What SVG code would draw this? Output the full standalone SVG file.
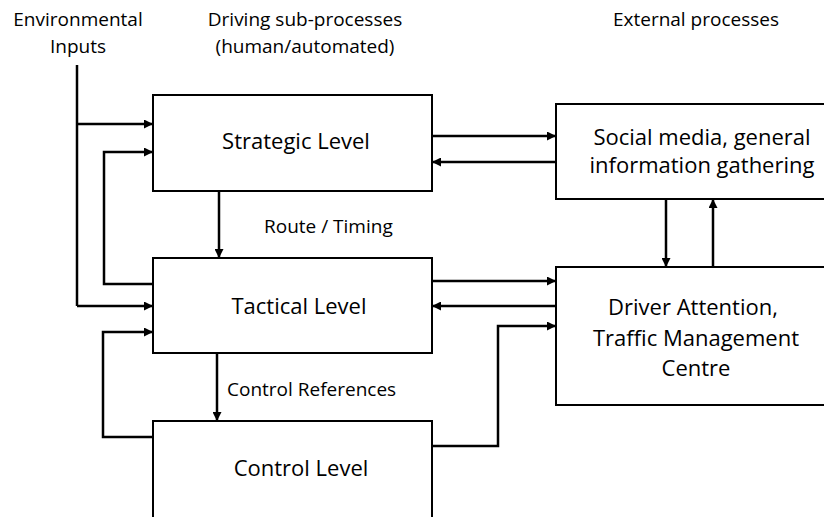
<svg xmlns="http://www.w3.org/2000/svg" width="824" height="517" viewBox="0 0 824 517">
  <style>
    .box { fill: #ffffff; stroke: #000000; stroke-width: 2; }
    .lbl { font-family: "Open Sans", "Liberation Sans", sans-serif; font-size: 22px; fill: #000000; text-anchor: middle; }
    .hdr { font-family: "Open Sans", "Liberation Sans", sans-serif; font-size: 19px; fill: #000000; text-anchor: middle; }
    .edge { font-family: "Open Sans", "Liberation Sans", sans-serif; font-size: 19px; fill: #000000; }
    .wire { fill: none; stroke: #000000; stroke-width: 2.5; stroke-linejoin: miter; }
    .arr { marker-end: url(#head); }
  </style>
  <defs>
    <marker id="head" viewBox="0 0 10 10" refX="10" refY="5" markerWidth="9" markerHeight="9" markerUnits="userSpaceOnUse" orient="auto">
      <path d="M0,0 L10,5 L0,10 Z" fill="#000000"/>
    </marker>
  </defs>

  <rect width="824" height="517" fill="#ffffff"/>

  <!-- column headings -->
  <g id="headings">
    <text class="hdr" x="78" y="26">Environmental</text>
    <text class="hdr" x="78" y="53">Inputs</text>
    <text class="hdr" x="305" y="26">Driving sub-processes</text>
    <text class="hdr" x="305" y="53">(human/automated)</text>
    <text class="hdr" x="696" y="26">External processes</text>
  </g>

  <!-- driving levels -->
  <g id="strategic">
    <rect class="box" x="153" y="95" width="279" height="96"/>
    <text class="lbl" x="296" y="149">Strategic Level</text>
  </g>
  <g id="tactical">
    <rect class="box" x="153" y="258" width="279" height="95"/>
    <text class="lbl" x="299" y="314">Tactical Level</text>
  </g>
  <g id="control">
    <rect class="box" x="153" y="421" width="279" height="110"/>
    <text class="lbl" x="301" y="476">Control Level</text>
  </g>

  <!-- external processes -->
  <g id="social">
    <rect class="box" x="556" y="104" width="292" height="95"/>
    <text class="lbl" x="702" y="145">Social media, general</text>
    <text class="lbl" x="702" y="173">information gathering</text>
  </g>
  <g id="driver">
    <rect class="box" x="556" y="267" width="280" height="138"/>
    <text class="lbl" x="693" y="315">Driver Attention,</text>
    <text class="lbl" x="696" y="345.5">Traffic Management</text>
    <text class="lbl" x="696" y="376">Centre</text>
  </g>

  <!-- connectors -->
  <g id="connectors">
    <!-- environmental inputs -->
    <path class="wire" d="M77,65 V306"/>
    <path class="wire arr" d="M77,124 H153"/>
    <path class="wire arr" d="M77,306 H153"/>
    <!-- tactical feedback to strategic -->
    <path class="wire arr" d="M153,284 H104 V152 H153"/>
    <!-- control feedback to tactical -->
    <path class="wire arr" d="M153,437 H103 V332 H153"/>
    <!-- downward references -->
    <path class="wire arr" d="M219,191 V258"/>
    <path class="wire arr" d="M217,353 V421"/>
    <!-- strategic and social exchange -->
    <path class="wire arr" d="M432,136 H556"/>
    <path class="wire arr" d="M556,162 H432"/>
    <!-- social and driver exchange -->
    <path class="wire arr" d="M666,199 V267"/>
    <path class="wire arr" d="M713,267 V199"/>
    <!-- tactical and driver exchange -->
    <path class="wire arr" d="M432,281 H556"/>
    <path class="wire arr" d="M556,306 H432"/>
    <!-- control to driver -->
    <path class="wire arr" d="M432,446 H498 V326 H556"/>
  </g>

  <!-- edge labels -->
  <g id="labels">
    <text class="edge" x="264" y="233">Route / Timing</text>
    <text class="edge" x="227" y="396">Control References</text>
  </g>
</svg>
